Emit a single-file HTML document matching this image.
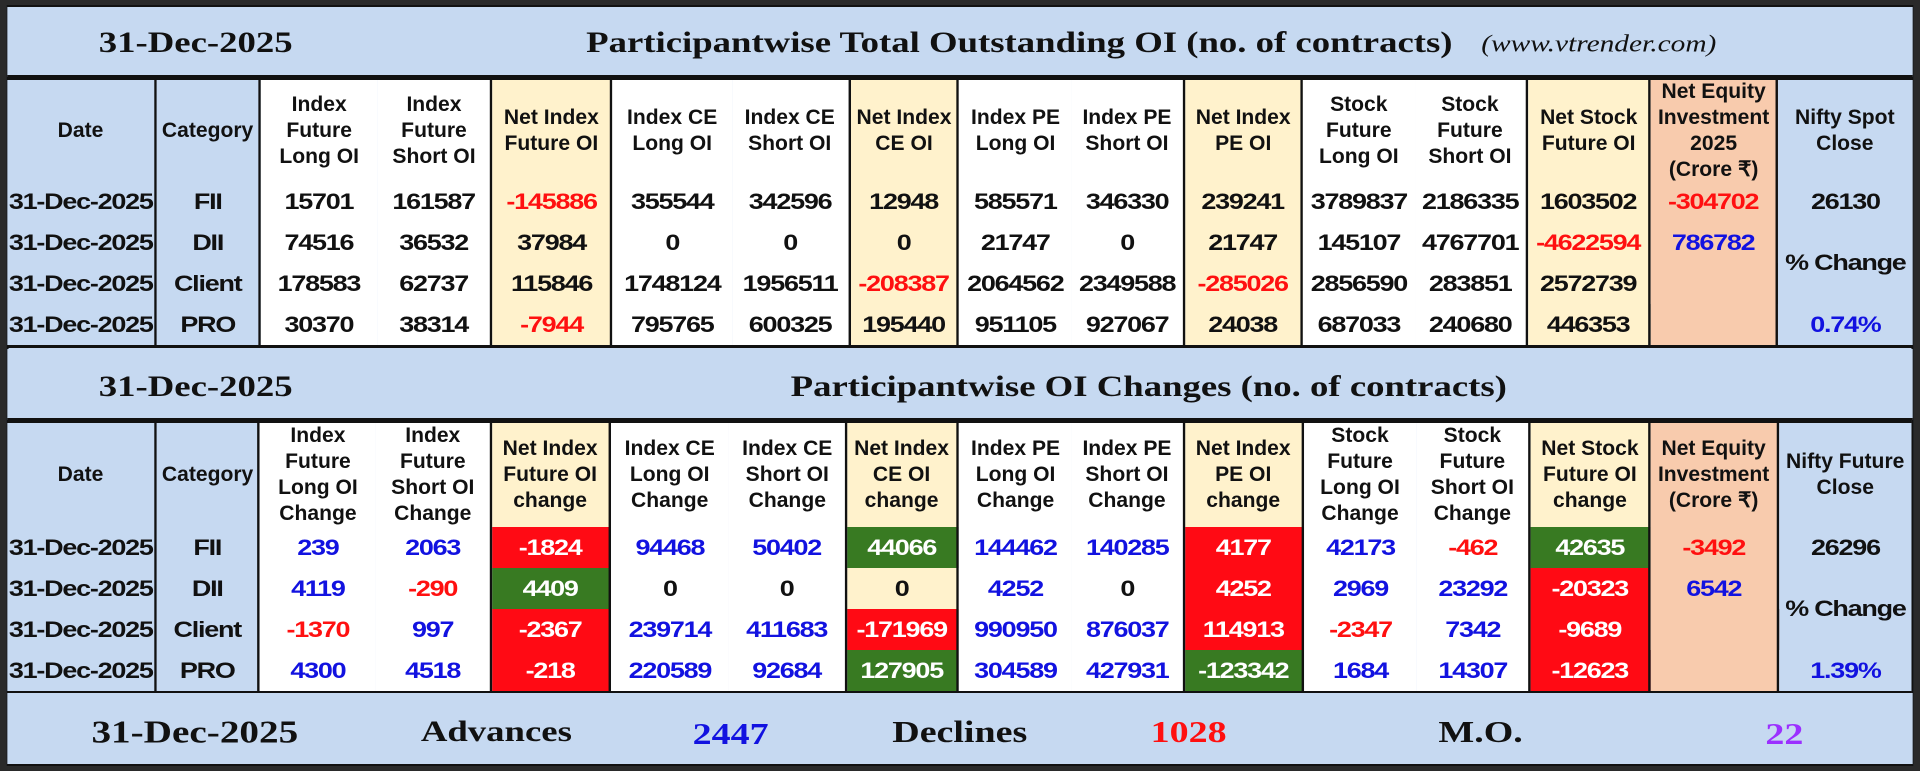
<!DOCTYPE html>
<html><head><meta charset="utf-8"><style>
*{box-sizing:border-box;margin:0;padding:0}
body{width:1920px;height:771px;background:#2a2a2a;position:relative;overflow:hidden;font-family:"Liberation Sans",Arial,sans-serif}
#wrap{position:absolute;left:0;top:0;width:1568px;height:771px;transform:scaleX(1.2245);transform-origin:0 0}
#frame{position:absolute;left:4.9px;top:5px;width:1558px;height:761px;background:#c6d9f1;border:2px solid #111}
.band{position:absolute;left:5.7px;width:1556.6px;background:#c6d9f1;font-family:"Liberation Serif",serif;font-weight:bold;color:#111}
.band span{position:absolute;white-space:nowrap;transform:translateY(-50%)}
.grid{position:absolute;left:5.7px;display:grid;border-top:3px solid #111;border-bottom:3px solid #111}
.grid div{display:flex;align-items:center;justify-content:center;text-align:center;font-weight:bold;font-size:22px;letter-spacing:-1px;line-height:26px;color:#111;white-space:nowrap}
.grid .h{font-size:21px;letter-spacing:0}
.h span{display:inline-block;transform:scaleX(0.82)}
.e{border-right:2px solid #111}
.b{background:#c6d9f1}.w{background:#fff}.c{background:#fff2cc}.p{background:#f8cbad}
.R{background:#ff0a14!important;color:#fff!important}.G{background:#387a22!important;color:#fff!important}
.r{color:#ff1010!important}.u{color:#1212e0!important}
</style></head><body>
<div id="wrap">
<div id="frame"></div>
<div class="band" style="top:7px;height:70px;border-bottom:2px solid #111">
<span style="left:75px;top:36px;font-size:30px">31-Dec-2025</span>
<span style="left:473px;top:36px;font-size:30px">Participantwise Total Outstanding OI (no. of contracts)</span>
<span style="left:1204px;top:38px;font-size:24px;font-weight:normal;font-style:italic">(www.vtrender.com)</span>
</div>
<div class="grid" style="top:77px;width:1556.6px;grid-template-columns:122.5px 84.9px 94.7px 94.7px 98px 97.2px 97.2px 88.2px 92.3px 92.3px 96.4px 91.5px 92.3px 100.4px 103.7px 110.3px;grid-template-rows:101px 41px 41px 41px 41px">
<div class="b e h"><span>Date</span></div><div class="b e h"><span>Category</span></div>
<div class="w h"><span>Index<br>Future<br>Long OI</span></div><div class="w e h"><span>Index<br>Future<br>Short OI</span></div>
<div class="c e h"><span>Net Index<br>Future OI</span></div>
<div class="w h"><span>Index CE<br>Long OI</span></div><div class="w e h"><span>Index CE<br>Short OI</span></div>
<div class="c e h"><span>Net Index<br>CE OI</span></div>
<div class="w h"><span>Index PE<br>Long OI</span></div><div class="w e h"><span>Index PE<br>Short OI</span></div>
<div class="c e h"><span>Net Index<br>PE OI</span></div>
<div class="w h"><span>Stock<br>Future<br>Long OI</span></div><div class="w e h"><span>Stock<br>Future<br>Short OI</span></div>
<div class="c e h"><span>Net Stock<br>Future OI</span></div>
<div class="p e h"><span>Net Equity<br>Investment<br>2025<br>(Crore ₹)</span></div>
<div class="b h"><span>Nifty Spot<br>Close</span></div>

<div class="b e">31-Dec-2025</div><div class="b e">FII</div><div class="w">15701</div><div class="w e">161587</div><div class="c e r">-145886</div><div class="w">355544</div><div class="w e">342596</div><div class="c e">12948</div><div class="w">585571</div><div class="w e">346330</div><div class="c e">239241</div><div class="w">3789837</div><div class="w e">2186335</div><div class="c e">1603502</div><div class="p e r">-304702</div><div class="b">26130</div>

<div class="b e">31-Dec-2025</div><div class="b e">DII</div><div class="w">74516</div><div class="w e">36532</div><div class="c e">37984</div><div class="w">0</div><div class="w e">0</div><div class="c e">0</div><div class="w">21747</div><div class="w e">0</div><div class="c e">21747</div><div class="w">145107</div><div class="w e">4767701</div><div class="c e r">-4622594</div><div class="p e u">786782</div><div class="b" style="grid-row:span 2">% Change</div>

<div class="b e">31-Dec-2025</div><div class="b e">Client</div><div class="w">178583</div><div class="w e">62737</div><div class="c e">115846</div><div class="w">1748124</div><div class="w e">1956511</div><div class="c e r">-208387</div><div class="w">2064562</div><div class="w e">2349588</div><div class="c e r">-285026</div><div class="w">2856590</div><div class="w e">283851</div><div class="c e">2572739</div><div class="p e" style="grid-row:span 2"></div>

<div class="b e">31-Dec-2025</div><div class="b e">PRO</div><div class="w">30370</div><div class="w e">38314</div><div class="c e r">-7944</div><div class="w">795765</div><div class="w e">600325</div><div class="c e">195440</div><div class="w">951105</div><div class="w e">927067</div><div class="c e">24038</div><div class="w">687033</div><div class="w e">240680</div><div class="c e">446353</div><div class="b u">0.74%</div>
</div>

<div class="band" style="top:349px;height:71px;border-bottom:2px solid #111">
<span style="left:75px;top:38px;font-size:30px">31-Dec-2025</span>
<span style="left:640px;top:38px;font-size:30px">Participantwise OI Changes (no. of contracts)</span>
</div>
<div class="grid" style="top:420px;width:1555.7px;grid-template-columns:122.5px 84.1px 94.7px 94.7px 97.2px 96.4px 96.4px 91.5px 92.3px 92.3px 97.2px 92.3px 93.1px 98px 104.5px 108.6px;grid-template-rows:104px 41px 41px 41px 41px">
<div class="b e h"><span>Date</span></div><div class="b e h"><span>Category</span></div>
<div class="w h"><span>Index<br>Future<br>Long OI<br>Change</span></div><div class="w e h"><span>Index<br>Future<br>Short OI<br>Change</span></div>
<div class="c e h"><span>Net Index<br>Future OI<br>change</span></div>
<div class="w h"><span>Index CE<br>Long OI<br>Change</span></div><div class="w e h"><span>Index CE<br>Short OI<br>Change</span></div>
<div class="c e h"><span>Net Index<br>CE OI<br>change</span></div>
<div class="w h"><span>Index PE<br>Long OI<br>Change</span></div><div class="w e h"><span>Index PE<br>Short OI<br>Change</span></div>
<div class="c e h"><span>Net Index<br>PE OI<br>change</span></div>
<div class="w h"><span>Stock<br>Future<br>Long OI<br>Change</span></div><div class="w e h"><span>Stock<br>Future<br>Short OI<br>Change</span></div>
<div class="c e h"><span>Net Stock<br>Future OI<br>change</span></div>
<div class="p e h"><span>Net Equity<br>Investment<br>(Crore ₹)</span></div>
<div class="b h"><span>Nifty Future<br>Close</span></div>

<div class="b e">31-Dec-2025</div><div class="b e">FII</div><div class="w u">239</div><div class="w e u">2063</div><div class="c e R">-1824</div><div class="w u">94468</div><div class="w e u">50402</div><div class="c e G">44066</div><div class="w u">144462</div><div class="w e u">140285</div><div class="c e R">4177</div><div class="w u">42173</div><div class="w e r">-462</div><div class="c e G">42635</div><div class="p e r">-3492</div><div class="b">26296</div>

<div class="b e">31-Dec-2025</div><div class="b e">DII</div><div class="w u">4119</div><div class="w e r">-290</div><div class="c e G">4409</div><div class="w">0</div><div class="w e">0</div><div class="c e">0</div><div class="w u">4252</div><div class="w e">0</div><div class="c e R">4252</div><div class="w u">2969</div><div class="w e u">23292</div><div class="c e R">-20323</div><div class="p e u">6542</div><div class="b" style="grid-row:span 2">% Change</div>

<div class="b e">31-Dec-2025</div><div class="b e">Client</div><div class="w r">-1370</div><div class="w e u">997</div><div class="c e R">-2367</div><div class="w u">239714</div><div class="w e u">411683</div><div class="c e R">-171969</div><div class="w u">990950</div><div class="w e u">876037</div><div class="c e R">114913</div><div class="w r">-2347</div><div class="w e u">7342</div><div class="c e R">-9689</div><div class="p e" style="grid-row:span 2"></div>

<div class="b e">31-Dec-2025</div><div class="b e">PRO</div><div class="w u">4300</div><div class="w e u">4518</div><div class="c e R">-218</div><div class="w u">220589</div><div class="w e u">92684</div><div class="c e G">127905</div><div class="w u">304589</div><div class="w e u">427931</div><div class="c e G">-123342</div><div class="w u">1684</div><div class="w e u">14307</div><div class="c e R">-12623</div><div class="b u">1.39%</div>
</div>

<div class="band" style="top:693px;height:71px">
<span style="left:69px;top:39px;font-size:32px">31-Dec-2025</span>
<span style="left:338px;top:39px;font-size:30px">Advances</span>
<span style="left:560px;top:41px;font-size:31px;color:#1212e0">2447</span>
<span style="left:723px;top:39px;font-size:31px">Declines</span>
<span style="left:934px;top:39px;font-size:31px;color:#ff1010">1028</span>
<span style="left:1169px;top:39px;font-size:31px">M.O.</span>
<span style="left:1436px;top:41px;font-size:31px;color:#9b30ff">22</span>
</div>
</div>
</body></html>
